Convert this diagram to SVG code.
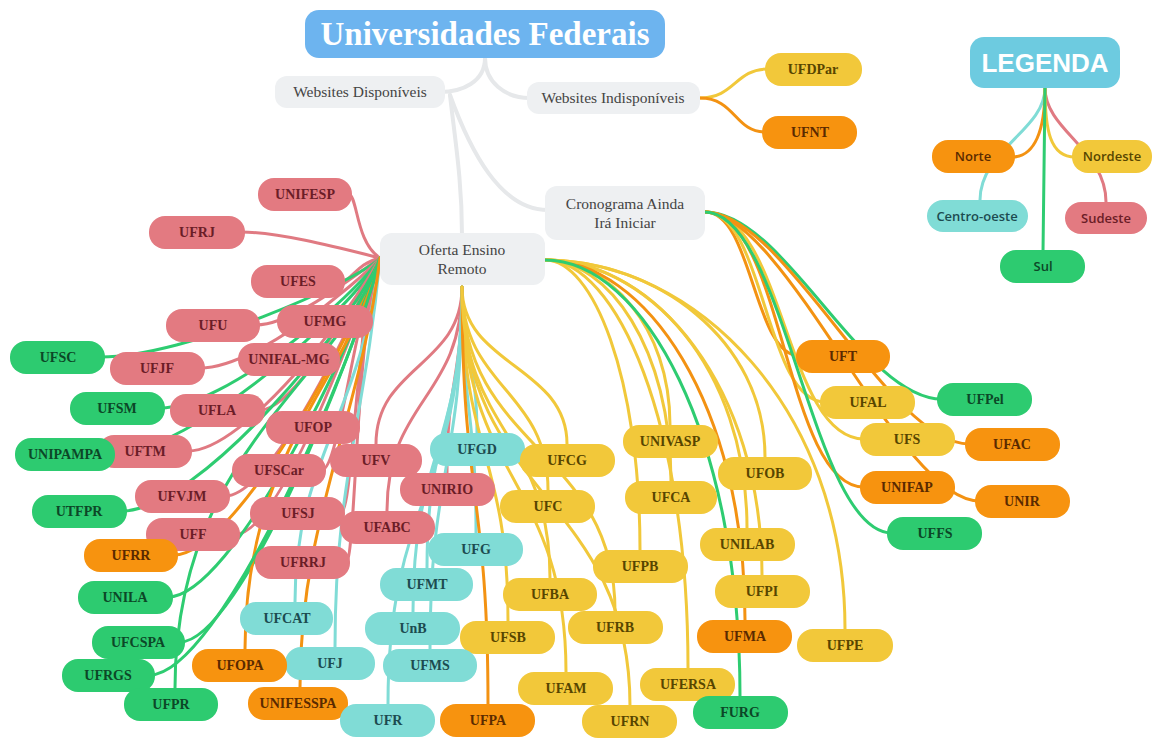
<svg xmlns="http://www.w3.org/2000/svg" width="1153" height="738" viewBox="0 0 1153 738">
<style>
.bg{fill:#ffffff}
.c path{fill:none;stroke-width:3;stroke-linecap:round}
.gr{stroke:#e6e8ea!important;stroke-width:4!important}
.ps{stroke:#e07a82}.pg{stroke:#2ecc71}.pn{stroke:#f39212}.py{stroke:#f1c83a}.pc{stroke:#80dcd6}
.nd rect{rx:16;ry:16}
.nd text{font-family:"Liberation Serif",serif;font-weight:700;font-size:14px;text-anchor:middle}
.s rect{fill:#e37a81}.s text{fill:#6b1d27}
.g rect{fill:#2dcb70}.g text{fill:#0c4727}
.n rect{fill:#f7930f}.n text{fill:#5a2a00}
.y rect{fill:#f2c83a}.y text{fill:#574500}
.k rect{fill:#80dcd6}.k text{fill:#1c4b50}
.t rect{fill:#eef0f2;rx:12;ry:12}
.t text{font-family:"Liberation Serif",serif;font-size:15.5px;fill:#444;text-anchor:middle}
.lg text{font-family:"Open Sans","Liberation Sans",sans-serif;font-weight:600;font-size:13px;text-anchor:middle}
</style>
<rect class="bg" x="0" y="0" width="1153" height="738"/>
<g id="connectors" class="c">
<path class="gr" d="M485,58 C485,82 462,92 440,92"/>
<path class="gr" d="M485,58 C485,82 505,98 530,98"/>
<path class="gr" d="M450,95 C455,140 462,180 462,235"/>
<path class="gr" d="M450,95 C470,150 500,210 548,210"/>
<path class="py" d="M700,98 C735,98 735,69 768,69"/>
<path class="pn" d="M700,98 C735,98 735,132 765,132"/>
<!-- legend -->
<path class="pc" d="M1045,88 C1045,130 980,150 980,200"/>
<path class="pn" d="M1045,88 C1045,130 1035,157 1012,157"/>
<path class="ps" d="M1045,88 C1045,130 1106,150 1106,202"/>
<path class="py" d="M1045,88 C1045,130 1050,157 1075,157"/>
<path class="pg" d="M1045,88 L1043,252"/>
<!-- left fan -->
<path class="ps" d="M380,258 C355,242 358,194 348,194"/>
<path class="ps" d="M380,258 C355,252 283,232 241,232"/>
<path class="ps" d="M380,258 C355,264 353,281 341,281"/>
<path class="ps" d="M380,258 C355,275 293,325 256,325"/>
<path class="ps" d="M380,258 C355,274 372,321 369,321"/>
<path class="pg" d="M380,258 C355,283 185,357 101,357"/>
<path class="ps" d="M380,258 C355,286 254,368 200,368"/>
<path class="ps" d="M380,258 C355,283 349,359 336,359"/>
<path class="pg" d="M380,258 C355,296 226,408 160,408"/>
<path class="ps" d="M380,258 C355,296 296,410 260,410"/>
<path class="ps" d="M380,258 C355,300 363,427 356,427"/>
<path class="pg" d="M380,258 C355,307 192,454 111,454"/>
<path class="ps" d="M380,258 C355,306 246,451 188,451"/>
<path class="ps" d="M380,258 C355,311 339,470 322,470"/>
<path class="ps" d="M380,258 C355,318 272,496 225,496"/>
<path class="pg" d="M380,258 C355,321 199,511 122,511"/>
<path class="ps" d="M380,258 C355,322 353,513 341,513"/>
<path class="ps" d="M380,258 C355,327 279,534 236,534"/>
<path class="pn" d="M380,258 C355,332 236,555 174,555"/>
<path class="ps" d="M380,258 C355,334 356,562 346,562"/>
<path class="pg" d="M380,258 C355,343 232,597 168,597"/>
<path class="pc" d="M380,258 C360,420 295,460 295,602"/>
<path class="pg" d="M380,258 C355,354 240,642 180,642"/>
<path class="pn" d="M380,258 C350,380 245,450 245,649"/>
<path class="pc" d="M380,258 C365,420 335,480 335,647"/>
<path class="pg" d="M380,258 C355,362 219,675 150,675"/>
<path class="pg" d="M380,258 C340,380 175,450 175,688"/>
<path class="pn" d="M380,258 C360,420 300,520 300,687"/>
<!-- bottom fan -->
<path class="ps" d="M462,287 C462,366 376,366 376,444" stroke-width="4"/>
<path class="ps" d="M462,287 C462,380 447,380 447,473" stroke-width="4"/>
<path class="ps" d="M462,287 C462,399 387,399 387,511" stroke-width="4"/>
<path class="pc" d="M462,287 C462,360 477,360 477,433"/>
<path class="py" d="M462,287 C462,366 567,366 567,444"/>
<path class="py" d="M462,287 C462,389 548,389 548,490"/>
<path class="pc" d="M462,287 C462,410 476,410 476,533"/>
<path class="pc" d="M462,287 C462,428 427,428 427,568"/>
<path class="py" d="M462,287 C462,433 550,433 550,578"/>
<path class="pc" d="M462,287 C462,450 413,450 413,612"/>
<path class="py" d="M462,287 C462,454 508,454 508,621"/>
<path class="py" d="M462,287 C462,449 615,449 615,611"/>
<path class="pc" d="M462,287 C462,468 430,468 430,649"/>
<path class="py" d="M462,287 C462,480 566,480 566,672"/>
<path class="pc" d="M462,287 C462,496 388,496 388,704"/>
<path class="pn" d="M462,287 C462,496 488,496 488,704"/>
<path class="py" d="M462,287 C462,497 630,497 630,706"/>
<!-- right fan -->
<path class="py" d="M545,260 C608,260 670,326 670,425"/>
<path class="py" d="M545,260 C655,260 765,339 765,457"/>
<path class="py" d="M545,260 C608,260 671,348 671,481"/>
<path class="py" d="M545,260 C646,260 747,367 747,528"/>
<path class="py" d="M545,260 C593,260 640,376 640,550"/>
<path class="py" d="M545,260 C654,260 762,386 762,575"/>
<path class="pn" d="M545,260 C645,260 745,404 745,620"/>
<path class="py" d="M545,260 C695,260 845,408 845,629"/>
<path class="py" d="M545,260 C617,260 688,423 688,668"/>
<path class="pg" d="M545,260 C643,260 740,434 740,696"/>
<!-- cronograma fan -->
<path class="pn" d="M705,212 C753,212 753,356 800,356" stroke-width="4"/>
<path class="py" d="M705,212 C765,212 765,402 825,402"/>
<path class="pg" d="M705,212 C785,212 862,399 942,399"/>
<path class="py" d="M705,212 C784,212 785,439 864,439"/>
<path class="pn" d="M705,212 C785,212 889,444 969,444"/>
<path class="pn" d="M705,212 C784,212 785,487 864,487"/>
<path class="pn" d="M705,212 C785,212 899,501 979,501"/>
<path class="pg" d="M705,212 C785,212 812,533 892,533"/>
</g>

<g id="root"><rect x="305" y="10" width="360" height="48" rx="14" fill="#6db4ef"/><text x="485" y="45" font-family="Liberation Serif,serif" font-weight="700" font-size="33" fill="#ffffff" text-anchor="middle">Universidades Federais</text></g>
<g id="websites-disponiveis" class="t"><rect x="275" y="76" width="170" height="32"/><text x="360" y="97">Websites Disponíveis</text></g>
<g id="websites-indisponiveis" class="t"><rect x="527" y="82" width="173" height="32"/><text x="613" y="103">Websites Indisponíveis</text></g>
<g id="cronograma" class="t"><rect x="545" y="186" width="160" height="54"/><text x="625" y="209">Cronograma Ainda</text><text x="625" y="228">Irá Iniciar</text></g>
<g id="oferta" class="t"><rect x="380" y="233" width="165" height="52"/><text x="462" y="255">Oferta Ensino</text><text x="462" y="274">Remoto</text></g>

<g id="legenda"><rect x="970" y="37" width="150" height="51" rx="14" fill="#6dcbe0"/><text x="1045" y="72" font-family="Liberation Sans,sans-serif" font-weight="700" font-size="26" fill="#ffffff" text-anchor="middle">LEGENDA</text></g>
<g id="leg-norte" class="nd n lg"><rect x="932" y="140" width="83" height="33"/><text x="973" y="161">Norte</text></g>
<g id="leg-nordeste" class="nd y lg"><rect x="1072" y="140" width="80" height="33"/><text x="1112" y="161">Nordeste</text></g>
<g id="leg-centro" class="nd k lg"><rect x="927" y="200" width="101" height="32"/><text x="977" y="221">Centro-oeste</text></g>
<g id="leg-sudeste" class="nd s lg"><rect x="1065" y="202" width="82" height="32"/><text x="1106" y="223">Sudeste</text></g>
<g id="leg-sul" class="nd g lg"><rect x="1000" y="250" width="85" height="33"/><text x="1043" y="271">Sul</text></g>

<g id="ufdpar" class="nd y"><rect x="765" y="53" width="97" height="33"/><text x="813" y="74">UFDPar</text></g>
<g id="ufnt" class="nd n"><rect x="762" y="116" width="95" height="33"/><text x="810" y="137">UFNT</text></g>

<g id="unifesp" class="nd s"><rect x="258" y="178" width="94" height="33"/><text x="305" y="199">UNIFESP</text></g>
<g id="ufrj" class="nd s"><rect x="149" y="216" width="96" height="33"/><text x="197" y="237">UFRJ</text></g>
<g id="ufes" class="nd s"><rect x="251" y="265" width="94" height="33"/><text x="298" y="286">UFES</text></g>
<g id="ufu" class="nd s"><rect x="166" y="309" width="94" height="33"/><text x="213" y="330">UFU</text></g>
<g id="ufmg" class="nd s"><rect x="277" y="305" width="96" height="33"/><text x="325" y="326">UFMG</text></g>
<g id="ufsc" class="nd g"><rect x="10" y="341" width="95" height="33"/><text x="58" y="362">UFSC</text></g>
<g id="ufjf" class="nd s"><rect x="110" y="352" width="95" height="33"/><text x="157" y="373">UFJF</text></g>
<g id="unifal" class="nd s"><rect x="238" y="343" width="102" height="33"/><text x="289" y="364">UNIFAL-MG</text></g>
<g id="ufsm" class="nd g"><rect x="70" y="392" width="95" height="33"/><text x="117" y="413">UFSM</text></g>
<g id="ufla" class="nd s"><rect x="170" y="394" width="95" height="33"/><text x="217" y="415">UFLA</text></g>
<g id="ufop" class="nd s"><rect x="266" y="411" width="94" height="33"/><text x="313" y="432">UFOP</text></g>
<g id="uftm" class="nd s"><rect x="98" y="435" width="94" height="33"/><text x="145" y="456">UFTM</text></g>
<g id="unipampa" class="nd g"><rect x="15" y="438" width="100" height="33"/><text x="65" y="459">UNIPAMPA</text></g>
<g id="ufv" class="nd s"><rect x="330" y="444" width="92" height="33"/><text x="376" y="465">UFV</text></g>
<g id="ufscar" class="nd s"><rect x="232" y="454" width="94" height="33"/><text x="279" y="475">UFSCar</text></g>
<g id="ufvjm" class="nd s"><rect x="135" y="480" width="95" height="33"/><text x="182" y="501">UFVJM</text></g>
<g id="unirio" class="nd s"><rect x="400" y="473" width="95" height="33"/><text x="447" y="494">UNIRIO</text></g>
<g id="utfpr" class="nd g"><rect x="32" y="495" width="95" height="33"/><text x="79" y="516">UTFPR</text></g>
<g id="ufsj" class="nd s"><rect x="250" y="497" width="95" height="33"/><text x="298" y="518">UFSJ</text></g>
<g id="ufabc" class="nd s"><rect x="340" y="511" width="95" height="33"/><text x="387" y="532">UFABC</text></g>
<g id="uff" class="nd s"><rect x="146" y="518" width="94" height="33"/><text x="193" y="539">UFF</text></g>
<g id="ufrr" class="nd n"><rect x="84" y="539" width="94" height="33"/><text x="131" y="560">UFRR</text></g>
<g id="ufrrj" class="nd s"><rect x="255" y="546" width="95" height="33"/><text x="303" y="567">UFRRJ</text></g>
<g id="unila" class="nd g"><rect x="78" y="581" width="95" height="33"/><text x="125" y="602">UNILA</text></g>
<g id="ufcat" class="nd k"><rect x="240" y="602" width="93" height="33"/><text x="287" y="623">UFCAT</text></g>
<g id="ufrgs" class="nd g"><rect x="62" y="659" width="93" height="33"/><text x="108" y="680">UFRGS</text></g>
<g id="ufcspa" class="nd g"><rect x="92" y="626" width="93" height="33"/><text x="138" y="647">UFCSPA</text></g>
<g id="ufpr" class="nd g"><rect x="124" y="688" width="94" height="33"/><text x="171" y="709">UFPR</text></g>
<g id="ufj" class="nd k"><rect x="285" y="647" width="90" height="33"/><text x="330" y="668">UFJ</text></g>
<g id="ufopa" class="nd n"><rect x="192" y="649" width="95" height="33"/><text x="240" y="670">UFOPA</text></g>
<g id="unifesspa" class="nd n"><rect x="248" y="687" width="100" height="33"/><text x="298" y="708">UNIFESSPA</text></g>

<g id="ufgd" class="nd k"><rect x="430" y="433" width="95" height="33"/><text x="477" y="454">UFGD</text></g>
<g id="ufcg" class="nd y"><rect x="520" y="444" width="95" height="33"/><text x="567" y="465">UFCG</text></g>
<g id="ufc" class="nd y"><rect x="500" y="490" width="95" height="33"/><text x="548" y="511">UFC</text></g>
<g id="ufg" class="nd k"><rect x="428" y="533" width="95" height="33"/><text x="476" y="554">UFG</text></g>
<g id="ufmt" class="nd k"><rect x="380" y="568" width="93" height="33"/><text x="427" y="589">UFMT</text></g>
<g id="ufba" class="nd y"><rect x="503" y="578" width="94" height="33"/><text x="550" y="599">UFBA</text></g>
<g id="unb" class="nd k"><rect x="365" y="612" width="95" height="33"/><text x="413" y="633">UnB</text></g>
<g id="ufsb" class="nd y"><rect x="460" y="621" width="95" height="33"/><text x="508" y="642">UFSB</text></g>
<g id="ufrb" class="nd y"><rect x="568" y="611" width="95" height="33"/><text x="615" y="632">UFRB</text></g>
<g id="ufms" class="nd k"><rect x="383" y="649" width="94" height="33"/><text x="430" y="670">UFMS</text></g>
<g id="ufam" class="nd y"><rect x="518" y="672" width="95" height="33"/><text x="566" y="693">UFAM</text></g>
<g id="ufr" class="nd k"><rect x="340" y="704" width="95" height="33"/><text x="388" y="725">UFR</text></g>
<g id="ufpa" class="nd n"><rect x="440" y="704" width="95" height="33"/><text x="488" y="725">UFPA</text></g>
<g id="ufrn" class="nd y"><rect x="582" y="705" width="95" height="33"/><text x="630" y="726">UFRN</text></g>

<g id="univasp" class="nd y"><rect x="623" y="425" width="95" height="33"/><text x="670" y="446">UNIVASP</text></g>
<g id="ufob" class="nd y"><rect x="718" y="457" width="94" height="33"/><text x="765" y="478">UFOB</text></g>
<g id="ufca" class="nd y"><rect x="625" y="481" width="92" height="33"/><text x="671" y="502">UFCA</text></g>
<g id="unilab" class="nd y"><rect x="700" y="528" width="95" height="33"/><text x="747" y="549">UNILAB</text></g>
<g id="ufpb" class="nd y"><rect x="593" y="550" width="95" height="33"/><text x="640" y="571">UFPB</text></g>
<g id="ufpi" class="nd y"><rect x="715" y="575" width="95" height="33"/><text x="762" y="596">UFPI</text></g>
<g id="ufma" class="nd n"><rect x="697" y="620" width="95" height="33"/><text x="745" y="641">UFMA</text></g>
<g id="ufpe" class="nd y"><rect x="797" y="629" width="96" height="33"/><text x="845" y="650">UFPE</text></g>
<g id="ufersa" class="nd y"><rect x="640" y="668" width="95" height="33"/><text x="688" y="689">UFERSA</text></g>
<g id="furg" class="nd g"><rect x="693" y="696" width="95" height="33"/><text x="740" y="717">FURG</text></g>

<g id="uft" class="nd n"><rect x="796" y="340" width="94" height="33"/><text x="843" y="361">UFT</text></g>
<g id="ufal" class="nd y"><rect x="820" y="386" width="95" height="33"/><text x="868" y="407">UFAL</text></g>
<g id="ufpel" class="nd g"><rect x="937" y="383" width="95" height="33"/><text x="985" y="404">UFPel</text></g>
<g id="ufs" class="nd y"><rect x="860" y="423" width="95" height="33"/><text x="907" y="444">UFS</text></g>
<g id="ufac" class="nd n"><rect x="965" y="428" width="95" height="33"/><text x="1012" y="449">UFAC</text></g>
<g id="unifap" class="nd n"><rect x="860" y="471" width="95" height="33"/><text x="907" y="492">UNIFAP</text></g>
<g id="unir" class="nd n"><rect x="975" y="485" width="95" height="33"/><text x="1022" y="506">UNIR</text></g>
<g id="uffs" class="nd g"><rect x="887" y="517" width="95" height="33"/><text x="935" y="538">UFFS</text></g>
</svg>
